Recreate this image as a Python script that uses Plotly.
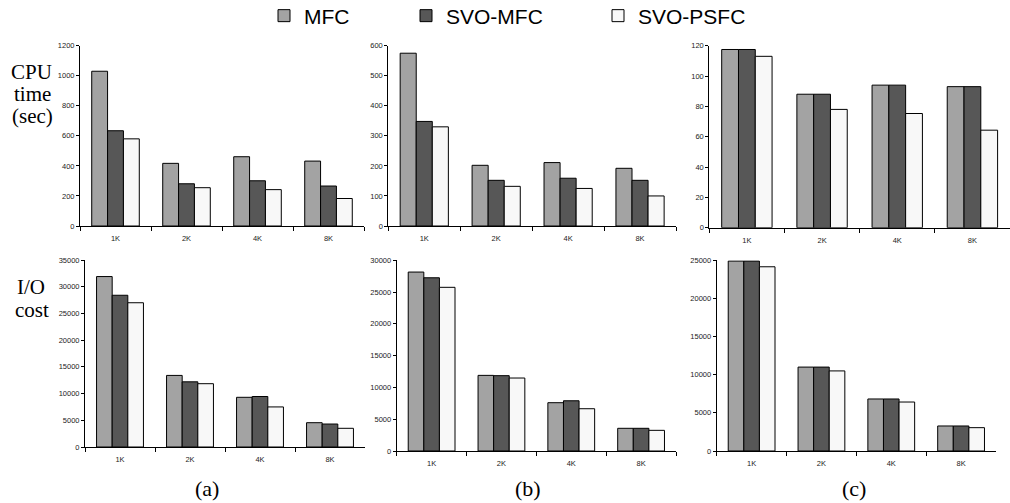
import plotly.graph_objects as go

categories = ["1K", "2K", "4K", "8K"]
series_names = ["MFC", "SVO-MFC", "SVO-PSFC"]

cpu_a_mfc = [1030, 417, 461, 432]
cpu_a_svo_mfc = [634, 281, 301, 266]
cpu_a_svo_psfc = [580, 255, 242, 183]
cpu_b_mfc = [575, 202, 211, 192]
cpu_b_svo_mfc = [348, 152, 159, 152]
cpu_b_svo_psfc = [330, 132, 125, 100]
cpu_c_mfc = [117.5, 88, 94, 93]
cpu_c_svo_mfc = [117.5, 88, 94, 93]
cpu_c_svo_psfc = [113, 78, 75.3, 64.3]
io_a_mfc = [31900, 13400, 9300, 4550]
io_a_svo_mfc = [28400, 12200, 9450, 4300]
io_a_svo_psfc = [27000, 11850, 7500, 3500]
io_b_mfc = [28150, 11900, 7600, 3570]
io_b_svo_mfc = [27250, 11850, 7900, 3570]
io_b_svo_psfc = [25750, 11480, 6650, 3250]
io_c_mfc = [24900, 11000, 6820, 3280]
io_c_svo_mfc = [24900, 11000, 6820, 3280]
io_c_svo_psfc = [24150, 10500, 6420, 3060]

y_ranges = [1200, 600, 120, 35000, 30000, 25000]
y_dticks = [200, 100, 20, 5000, 5000, 5000]

panels = [
    (cpu_a_mfc, cpu_a_svo_mfc, cpu_a_svo_psfc),
    (cpu_b_mfc, cpu_b_svo_mfc, cpu_b_svo_psfc),
    (cpu_c_mfc, cpu_c_svo_mfc, cpu_c_svo_psfc),
    (io_a_mfc, io_a_svo_mfc, io_a_svo_psfc),
    (io_b_mfc, io_b_svo_mfc, io_b_svo_psfc),
    (io_c_mfc, io_c_svo_mfc, io_c_svo_psfc),
]

W, H = 1010, 503
# pixel boxes: (x0, x1, ytop, ybottom)
boxes = [
    (80, 364, 45.7, 226),
    (388.3, 676, 45.7, 226),
    (709.3, 1010, 45.7, 227.7),
    (85, 365, 260, 447),
    (396.7, 676, 260.3, 451),
    (716.7, 996, 260.3, 451),
]

colors = ["#a3a3a3", "#575757", "#f8f8f8"]
legend_ids = ["legend", "legend2", "legend3"]

fig = go.Figure()
tick_font = dict(family="Liberation Sans, Arial, sans-serif", size=7.5, color="#222222")

for i, (vals, box) in enumerate(zip(panels, boxes)):
    xa = "x" if i == 0 else f"x{i+1}"
    ya = "y" if i == 0 else f"y{i+1}"
    for j, (name, v) in enumerate(zip(series_names, vals)):
        fig.add_trace(go.Bar(
            x=categories, y=v, name=name,
            marker=dict(color=colors[j], line=dict(color="#000000", width=1)),
            xaxis=xa, yaxis=ya,
            showlegend=(i == 0), legend=legend_ids[j],
        ))
    x0, x1, yt, yb = box
    xkey = "xaxis" if i == 0 else f"xaxis{i+1}"
    ykey = "yaxis" if i == 0 else f"yaxis{i+1}"
    fig.layout[xkey] = dict(
        domain=[x0 / W, x1 / W], anchor=ya, type="category",
        showline=True, linecolor="#000000", linewidth=1,
        ticks="outside", ticklen=4, tickcolor="#000000", tickson="boundaries",
        tickfont=tick_font, showgrid=False, zeroline=False, fixedrange=True,
        ticklabelstandoff=5,
    )
    fig.layout[ykey] = dict(
        domain=[1 - yb / H, 1 - yt / H], anchor=xa,
        range=[0, y_ranges[i]], dtick=y_dticks[i], tick0=0, tickformat="d",
        showline=True, linecolor="#000000", linewidth=1,
        ticks="outside", ticklen=3, tickcolor="#000000",
        tickfont=tick_font, showgrid=False, zeroline=False, fixedrange=True,
    )

legend_font = dict(family="Liberation Sans, Arial, sans-serif", size=21, color="#000000")
legend_x = [264, 406, 598]
for lid, lx in zip(legend_ids, legend_x):
    fig.layout[lid] = dict(
        x=lx / W, y=1 - 16 / H, xanchor="left", yanchor="middle",
        orientation="h", font=legend_font, bgcolor="rgba(0,0,0,0)",
        itemwidth=30, tracegroupgap=0,
    )

serif = "Liberation Serif, Times New Roman, serif"
labels = [
    ("CPU", 31, 72), ("time", 32, 94), ("(sec)", 32, 116),
    ("I/O", 31, 286.5), ("cost", 31.5, 310),
]
anns = []
for txt, px, py in labels:
    anns.append(dict(text=txt, x=px / W, y=1 - py / H, xref="paper", yref="paper",
                     xanchor="center", yanchor="middle", showarrow=False,
                     font=dict(family=serif, size=21, color="#000000")))
for txt, px in [("(a)", 207), ("(b)", 528), ("(c)", 854)]:
    anns.append(dict(text=txt, x=px / W, y=1 - 488 / H, xref="paper", yref="paper",
                     xanchor="center", yanchor="middle", showarrow=False,
                     font=dict(family=serif, size=22, color="#000000")))

fig.update_layout(
    width=W, height=H, autosize=False,
    margin=dict(l=0, r=0, t=0, b=0, autoexpand=False),
    paper_bgcolor="#ffffff", plot_bgcolor="#ffffff",
    barmode="group", bargap=0.33, bargroupgap=0,
    annotations=anns,
)

fig.write_html("out.html", post_script="document.body.style.margin='0';",
               config={"displayModeBar": False})
